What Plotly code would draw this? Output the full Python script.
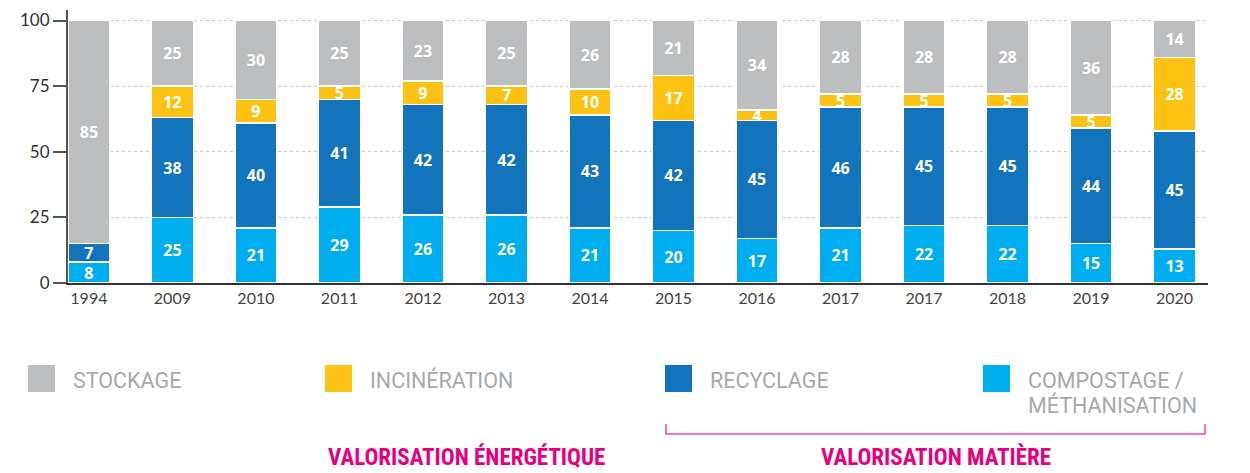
import plotly.graph_objects as go

# ---- data ----
years = ["1994", "2009", "2010", "2011", "2012", "2013", "2014", "2015",
         "2016", "2017", "2017", "2018", "2019", "2020"]
compostage = [8, 25, 21, 29, 26, 26, 21, 20, 17, 21, 22, 22, 15, 13]
recyclage = [7, 38, 40, 41, 42, 42, 43, 42, 45, 46, 45, 45, 44, 45]
incineration = [0, 12, 9, 5, 9, 7, 10, 17, 4, 5, 5, 5, 5, 28]
stockage = [85, 25, 30, 25, 23, 25, 26, 21, 34, 28, 28, 28, 36, 14]

series_names = ["STOCKAGE", "INCINÉRATION", "RECYCLAGE", "COMPOSTAGE /<br>MÉTHANISATION"]
group_labels = ["VALORISATION ÉNERGÉTIQUE", "VALORISATION MATIÈRE"]
y_ticks = [0, 25, 50, 75, 100]

colors = {
    "STOCKAGE": "#bcbec0",
    "INCINÉRATION": "#fdc314",
    "RECYCLAGE": "#1374bb",
    "COMPOSTAGE": "#00aeef",
}

# page has an 8px body margin: figure is offset by OFF px
OFF = 8
W, H = 1250 - OFF, 473 - OFF
L, R, T = 68 - OFF, 1250 - 1208, 10 - OFF
B = H - (283 - OFF)
pw, ph = W - L - R, H - T - B


def px(x):
    return (x - OFF - L) / pw


def py(y):
    return (H - B - (y - OFF)) / ph


x_idx = list(range(len(years)))

fig = go.Figure()
stack = [
    ("COMPOSTAGE", compostage),
    ("RECYCLAGE", recyclage),
    ("INCINÉRATION", incineration),
    ("STOCKAGE", stockage),
]
for name, vals in stack:
    fig.add_trace(go.Bar(
        x=x_idx, y=vals, name=name,
        marker=dict(color=colors[name], line=dict(color="white", width=1.5)),
        text=[str(v) if v else "" for v in vals],
        textposition="inside", insidetextanchor="middle",
        constraintext="none", textangle=0,
        textfont=dict(family="Open Sans, Lato, sans-serif", size=16,
                      color="white", weight="bold"),
        width=0.5, showlegend=False,
    ))

fig.update_layout(
    width=W, height=H,
    margin=dict(l=L, r=R, t=T, b=B),
    barmode="stack",
    plot_bgcolor="white", paper_bgcolor="white",
    font=dict(family="Lato, Open Sans, sans-serif", color="#333333"),
)
fig.update_xaxes(
    range=[-0.25, 13.4],
    tickvals=x_idx, ticktext=years,
    showline=True, linecolor="#333333", linewidth=1.5,
    ticks="", showgrid=False, zeroline=False,
    tickfont=dict(size=16, color="#444444"),
)
fig.update_yaxes(
    range=[0, 104],
    tickvals=y_ticks,
    showline=True, linecolor="#555555", linewidth=2,
    ticks="outside", ticklen=13, tickcolor="#555555", tickwidth=1.5,
    showgrid=True, gridcolor="#c8c8c8", griddash="dot", gridwidth=1,
    zeroline=False,
    tickfont=dict(size=17, color="#333333"),
)

# custom legend
legend_pos = [(28, "STOCKAGE"), (325, "INCINÉRATION"), (665, "RECYCLAGE"), (983, "COMPOSTAGE")]
for (x0, key), label in zip(legend_pos, series_names):
    fig.add_shape(type="rect", xref="paper", yref="paper",
                  x0=px(x0), x1=px(x0 + 27), y0=py(392), y1=py(365),
                  fillcolor=colors[key], line=dict(width=0))
    for i, line in enumerate(label.split("<br>")):
        fig.add_annotation(xref="paper", yref="paper", x=px(x0 + 43), y=py(380 + 25 * i),
                           xanchor="left", yanchor="middle", align="left",
                           text=line, showarrow=False,
                           font=dict(family="Roboto, Open Sans, sans-serif", size=21.5,
                                     color="#a7a9ac"))

# bracket for VALORISATION MATIÈRE
pink = "#ec4ba9"
fig.add_shape(type="path", xref="paper", yref="paper",
              path=f"M {px(666)} {py(424)} L {px(666)} {py(434)} L {px(1205)} {py(434)} L {px(1205)} {py(424)}",
              line=dict(color=pink, width=1.5))

magenta = "#e6007e"
for xc, label in zip([466, 936], group_labels):
    fig.add_annotation(xref="paper", yref="paper", x=px(xc), y=py(472),
                       xanchor="center", yanchor="bottom", text=f"<b>{label}</b>",
                       showarrow=False, borderpad=0,
                       font=dict(family="Liberation Sans Narrow, Roboto Condensed, sans-serif",
                                 size=23, color=magenta))

fig.write_html("out.html")
